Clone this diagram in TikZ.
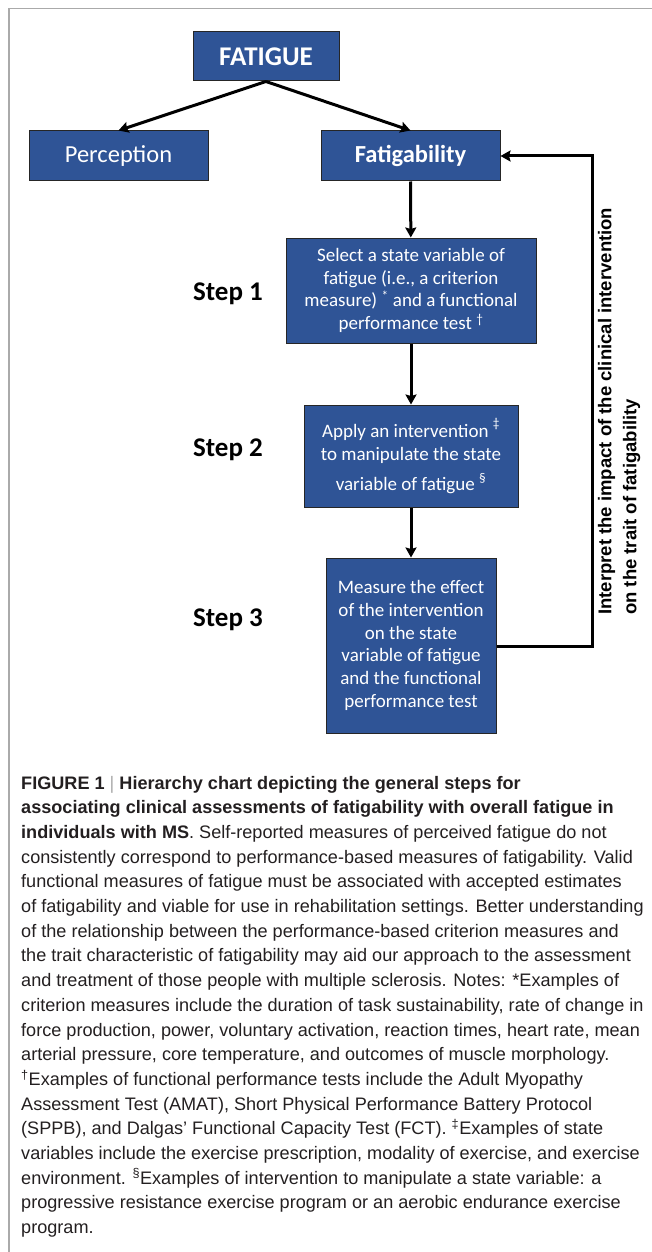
\documentclass[tikz,border=0pt]{standalone}
\usepackage{fontspec}
\setmainfont{Liberation Sans}
\newfontfamily\calibri{Carlito}
\newfontfamily\capfont{Liberation Sans}
\usetikzlibrary{arrows.meta}
\definecolor{boxblue}{RGB}{47,84,150}
\definecolor{framegray}{RGB}{170,170,170}
\definecolor{captext}{RGB}{35,31,32}

\begin{document}
\begin{tikzpicture}[x=1pt, y=-1pt,
  box/.style={draw=black!85, line width=1pt, fill=boxblue, text=white, align=center, inner sep=0pt},
  link/.style={line width=3pt, -{Stealth[length=10pt, width=11pt, inset=1.5pt]}},
  steplabel/.style={font=\calibri\bfseries\fontsize{27}{30}\selectfont},
  capline/.style={anchor=base west, inner sep=0pt, text=captext, font=\capfont\fontsize{18.1}{24.7}\selectfont}]
\useasboundingbox (0,0) rectangle (652,1252);

% Frame
\draw[framegray, line width=1.5pt] (9,1252) -- (9,8.5) -- (652,8.5);

% Hierarchy
\node[box, minimum width=146pt, minimum height=49pt, font=\calibri\bfseries\fontsize{27}{30}\selectfont] (fatigue) at (266,56.5) {FATIGUE};
\node[box, minimum width=179pt, minimum height=50pt, font=\calibri\fontsize{24.5}{28}\selectfont] (perception) at (118.5,156) {Perception};
\node[box, minimum width=179pt, minimum height=50pt, font=\calibri\bfseries\fontsize{24.5}{28}\selectfont] (fatigability) at (410.5,156) {Fatigability};

% Steps
\node[box, minimum width=250pt, minimum height=105pt, font=\calibri\fontsize{19}{22.7}\selectfont] (select) at (411,290.5) {Select a state variable of\\fatigue (i.e., a criterion\\measure) \textsuperscript{*} and a functional\\performance test \textsuperscript{†}};
\node[box, minimum width=214pt, minimum height=102pt, font=\calibri\fontsize{19}{22.7}\selectfont] (apply) at (411,456) {Apply an intervention \raisebox{4pt}{\textsuperscript{‡}}\\to manipulate the state\\[8pt]variable of fatigue \raisebox{2pt}{\textsuperscript{§}}};
\node[box, minimum width=170pt, minimum height=175pt, font=\calibri\fontsize{19}{22.7}\selectfont] (measure) at (411,645.5) {Measure the effect\\of the intervention\\on the state\\variable of fatigue\\and the functional\\performance test};

\node[steplabel] (step1) at (228,294) {Step 1};
\node[steplabel] (step2) at (228,450) {Step 2};
\node[steplabel] (step3) at (228,620) {Step 3};

% Feedback label
\node[rotate=90, anchor=west, align=left, inner sep=0pt, font=\bfseries\fontsize{18.5}{25}\selectfont] (interpret) at (619,615) {Interpret the impact of the clinical intervention\\on the trait of fatigability};

% Arrows
\draw[link] (fatigue.south) -- (perception.north);
\draw[link] (fatigue.south) -- (fatigability.north);
\draw[link] (fatigability) -- (select);
\draw[link] (select) -- (apply);
\draw[link] (apply) -- (measure);
\coordinate (turn) at (592,646);
\draw[link] (measure.east |- turn) -- (turn) |- (fatigability.east);

% Caption
\foreach \capt [count=\i] in {
  {\textbf{FIGURE 1} {\color{framegray}|} \textbf{Hierarchy chart depicting the general steps for}},
  {\textbf{associating clinical assessments of fatigability with overall fatigue in}},
  {\textbf{individuals with MS}. Self-reported measures of perceived fatigue do not},
  {consistently correspond to performance-based measures of fatigability. Valid},
  {functional measures of fatigue must be associated with accepted estimates},
  {of fatigability and viable for use in rehabilitation settings. Better understanding},
  {of the relationship between the performance-based criterion measures and},
  {the trait characteristic of fatigability may aid our approach to the assessment},
  {and treatment of those people with multiple sclerosis. Notes: *Examples of},
  {criterion measures include the duration of task sustainability, rate of change in},
  {force production, power, voluntary activation, reaction times, heart rate, mean},
  {arterial pressure, core temperature, and outcomes of muscle morphology.},
  {\textsuperscript{†}Examples of functional performance tests include the Adult Myopathy},
  {Assessment Test (AMAT), Short Physical Performance Battery Protocol},
  {(SPPB), and Dalgas’ Functional Capacity Test (FCT). \textsuperscript{‡}Examples of state},
  {variables include the exercise prescription, modality of exercise, and exercise},
  {environment. \textsuperscript{§}Examples of intervention to manipulate a state variable: a},
  {progressive resistance exercise program or an aerobic endurance exercise},
  {program.}}
  \node[capline] (cap\i) at (21,{789+(\i-1)*24.7}) {\capt};
\end{tikzpicture}
\end{document}
